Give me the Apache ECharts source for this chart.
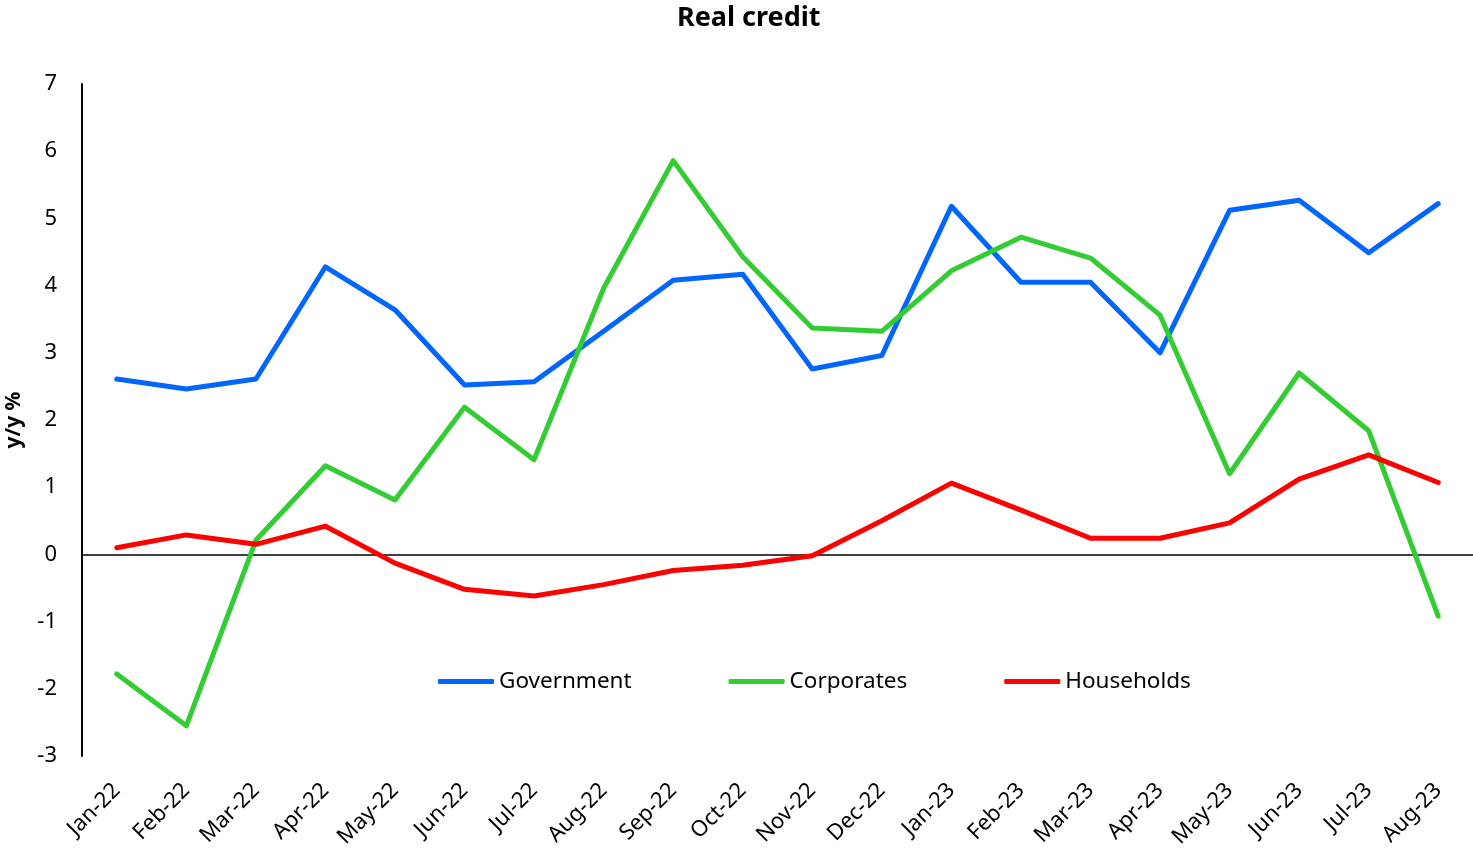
<!DOCTYPE html>
<html>
<head>
<meta charset="utf-8">
<script src="https://cdn.jsdelivr.net/npm/echarts@6/dist/echarts.min.js"></script>
<style>
  html, body { margin: 0; padding: 0; background: #fff; }
  #chart { width: 1473px; height: 853px; }
</style>
</head>
<body>
<div id="chart"></div>
<script>
// Monthly real credit growth, y/y %
const months = ['Jan-22','Feb-22','Mar-22','Apr-22','May-22','Jun-22','Jul-22','Aug-22','Sep-22','Oct-22',
                'Nov-22','Dec-22','Jan-23','Feb-23','Mar-23','Apr-23','May-23','Jun-23','Jul-23','Aug-23'];
const government = [2.61, 2.46, 2.61, 4.28, 3.64, 2.52, 2.57, 3.32, 4.08, 4.17,
                    2.76, 2.96, 5.18, 4.05, 4.05, 3.00, 5.12, 5.27, 4.49, 5.22];
const corporates = [-1.78, -2.55, 0.21, 1.32, 0.81, 2.19, 1.41, 3.96, 5.86, 4.43,
                    3.37, 3.32, 4.22, 4.72, 4.41, 3.56, 1.20, 2.70, 1.84, -0.92];
const households = [0.10, 0.29, 0.15, 0.42, -0.13, -0.52, -0.62, -0.45, -0.24, -0.16,
                    -0.02, 0.50, 1.06, 0.66, 0.24, 0.24, 0.47, 1.12, 1.48, 1.07];
const yTicks = { min: -3, max: 7, step: 1 };

const FONT = '"Noto Sans", "Open Sans", sans-serif';

function lineSeries(name, values, color, withZeroLine) {
  const s = {
    name: name,
    type: 'line',
    data: values,
    symbol: 'none',
    smooth: false,
    lineStyle: { color: color, width: 5, cap: 'round', join: 'round' },
    itemStyle: { color: color },
    z: 3
  };
  if (withZeroLine) {
    s.markLine = {
      silent: true,
      symbol: 'none',
      label: { show: false },
      lineStyle: { color: '#000', width: 1.5, type: 'solid' },
      emphasis: { disabled: true },
      data: [{ yAxis: 0 }],
      z: 1
    };
  }
  return s;
}

const chart = echarts.init(document.getElementById('chart'), null, { renderer: 'canvas' });
chart.setOption({
  backgroundColor: '#fff',
  animation: false,
  title: {
    text: 'Real credit',
    left: 672,
    top: 0,
    textStyle: { fontFamily: FONT, fontSize: 27, fontWeight: 'bold', color: '#000' }
  },
  legend: {
    left: 433,
    top: 665,
    itemWidth: 56,
    itemHeight: 5,
    itemGap: 97,
    icon: 'roundRect',
    textStyle: { fontFamily: FONT, fontSize: 22.5, color: '#000' },
    data: ['Government', 'Corporates', 'Households']
  },
  grid: { left: 82, right: 0, top: 84, bottom: 97, containLabel: false, outerBoundsMode: 'none' },
  xAxis: {
    type: 'category',
    data: months,
    boundaryGap: true,
    axisLine: { show: false, onZero: false },
    axisTick: { show: false },
    axisLabel: {
      rotate: 45,
      interval: 0,
      margin: 31,
      fontFamily: FONT,
      fontSize: 22,
      color: '#000'
    },
    splitLine: { show: false }
  },
  yAxis: {
    type: 'value',
    min: yTicks.min,
    max: yTicks.max,
    interval: yTicks.step,
    name: 'y/y %',
    nameLocation: 'middle',
    nameGap: 57,
    nameRotate: 90,
    nameTextStyle: { fontFamily: FONT, fontSize: 21, fontWeight: 'bold', color: '#000' },
    axisLine: { show: true, lineStyle: { color: '#000', width: 2 } },
    axisTick: { show: false },
    axisLabel: { margin: 25, fontFamily: FONT, fontSize: 22, color: '#000' },
    splitLine: { show: false }
  },
  series: [
    lineSeries('Government', government, '#0066FF', true),
    lineSeries('Corporates', corporates, '#33CC33', false),
    lineSeries('Households', households, '#FF0000', false)
  ]
});
</script>
</body>
</html>
